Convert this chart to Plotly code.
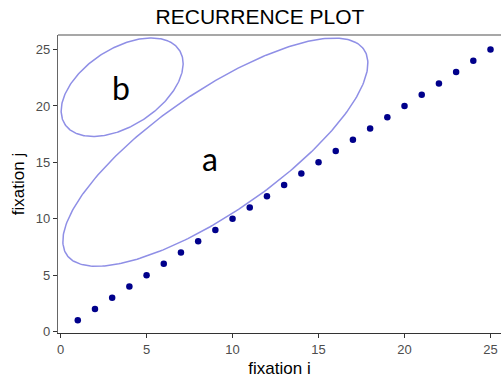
import numpy as np
import plotly.graph_objects as go

# ---- data ----
fixation_i = list(range(1, 26))
fixation_j = list(range(1, 26))

x_ticks = [0, 5, 10, 15, 20, 25]
y_ticks = [0, 5, 10, 15, 20, 25]

# ellipses (data units): center x, center y, semi-major, semi-minor, angle (deg)
ellipse_names = ["a", "b"]
ellipse_cx = [9.0, 3.58]
ellipse_cy = [15.9, 21.66]
ellipse_major = [12.70, 4.89]
ellipse_minor = [4.43, 2.78]
ellipse_angle = [49.8, 56.8]

label_x = [8.69, 3.52]
label_y = [15.3, 21.6]

title_text = "RECURRENCE PLOT"
x_title = "fixation i"
y_title = "fixation j"

fig = go.Figure()

t = np.linspace(0, 2 * np.pi, 300)
for cx, cy, a, b, ang in zip(ellipse_cx, ellipse_cy, ellipse_major, ellipse_minor, ellipse_angle):
    th = np.deg2rad(ang)
    ex = cx + a * np.cos(t) * np.cos(th) - b * np.sin(t) * np.sin(th)
    ey = cy + a * np.cos(t) * np.sin(th) + b * np.sin(t) * np.cos(th)
    fig.add_trace(go.Scatter(x=ex, y=ey, mode="lines",
                             line=dict(color="#8f8fe6", width=1.5),
                             hoverinfo="skip", showlegend=False))

fig.add_trace(go.Scatter(x=fixation_i, y=fixation_j, mode="markers",
                         marker=dict(color="#00008b", size=6.5),
                         showlegend=False))

for name, lx, ly in zip(ellipse_names, label_x, label_y):
    fig.add_annotation(x=lx, y=ly, text=name, showarrow=False,
                       font=dict(family="Lato", size=32, color="#000000"),
                       xanchor="center", yanchor="middle")

fig.add_shape(type="line", xref="paper", yref="paper", x0=0, x1=1, y0=1, y1=1,
              line=dict(color="#8a8a8a", width=1.3))

fig.update_layout(
    width=501, height=379,
    margin=dict(l=58, r=0, t=35, b=46),
    paper_bgcolor="white", plot_bgcolor="white",
    font=dict(family="Liberation Sans", color="#000000"),
    title=dict(text=title_text, x=0.519, xref="container", xanchor="center",
               y=0.955, yref="container", yanchor="middle",
               font=dict(size=21, color="#000000")),
    xaxis=dict(range=[-0.15, 25.61], tickvals=x_ticks, showgrid=False, zeroline=False,
               showline=True, linecolor="#333333", linewidth=1.3,
               ticks="outside", ticklen=4, tickcolor="#333333",
               tickfont=dict(size=13, color="#4d4d4d"),
               title=dict(text=x_title, font=dict(size=17, color="#000000"), standoff=6)),
    yaxis=dict(range=[-0.13, 26.29], tickvals=y_ticks, showgrid=False, zeroline=False,
               showline=True, linecolor="#666666", linewidth=1.3,
               ticks="outside", ticklen=4, tickcolor="#333333",
               tickfont=dict(size=13, color="#4d4d4d"),
               title=dict(text=y_title, font=dict(size=17, color="#000000"), standoff=6)),
)

fig.write_html("out.html", config={"displayModeBar": False},
               post_script="document.body.style.margin='0';")
